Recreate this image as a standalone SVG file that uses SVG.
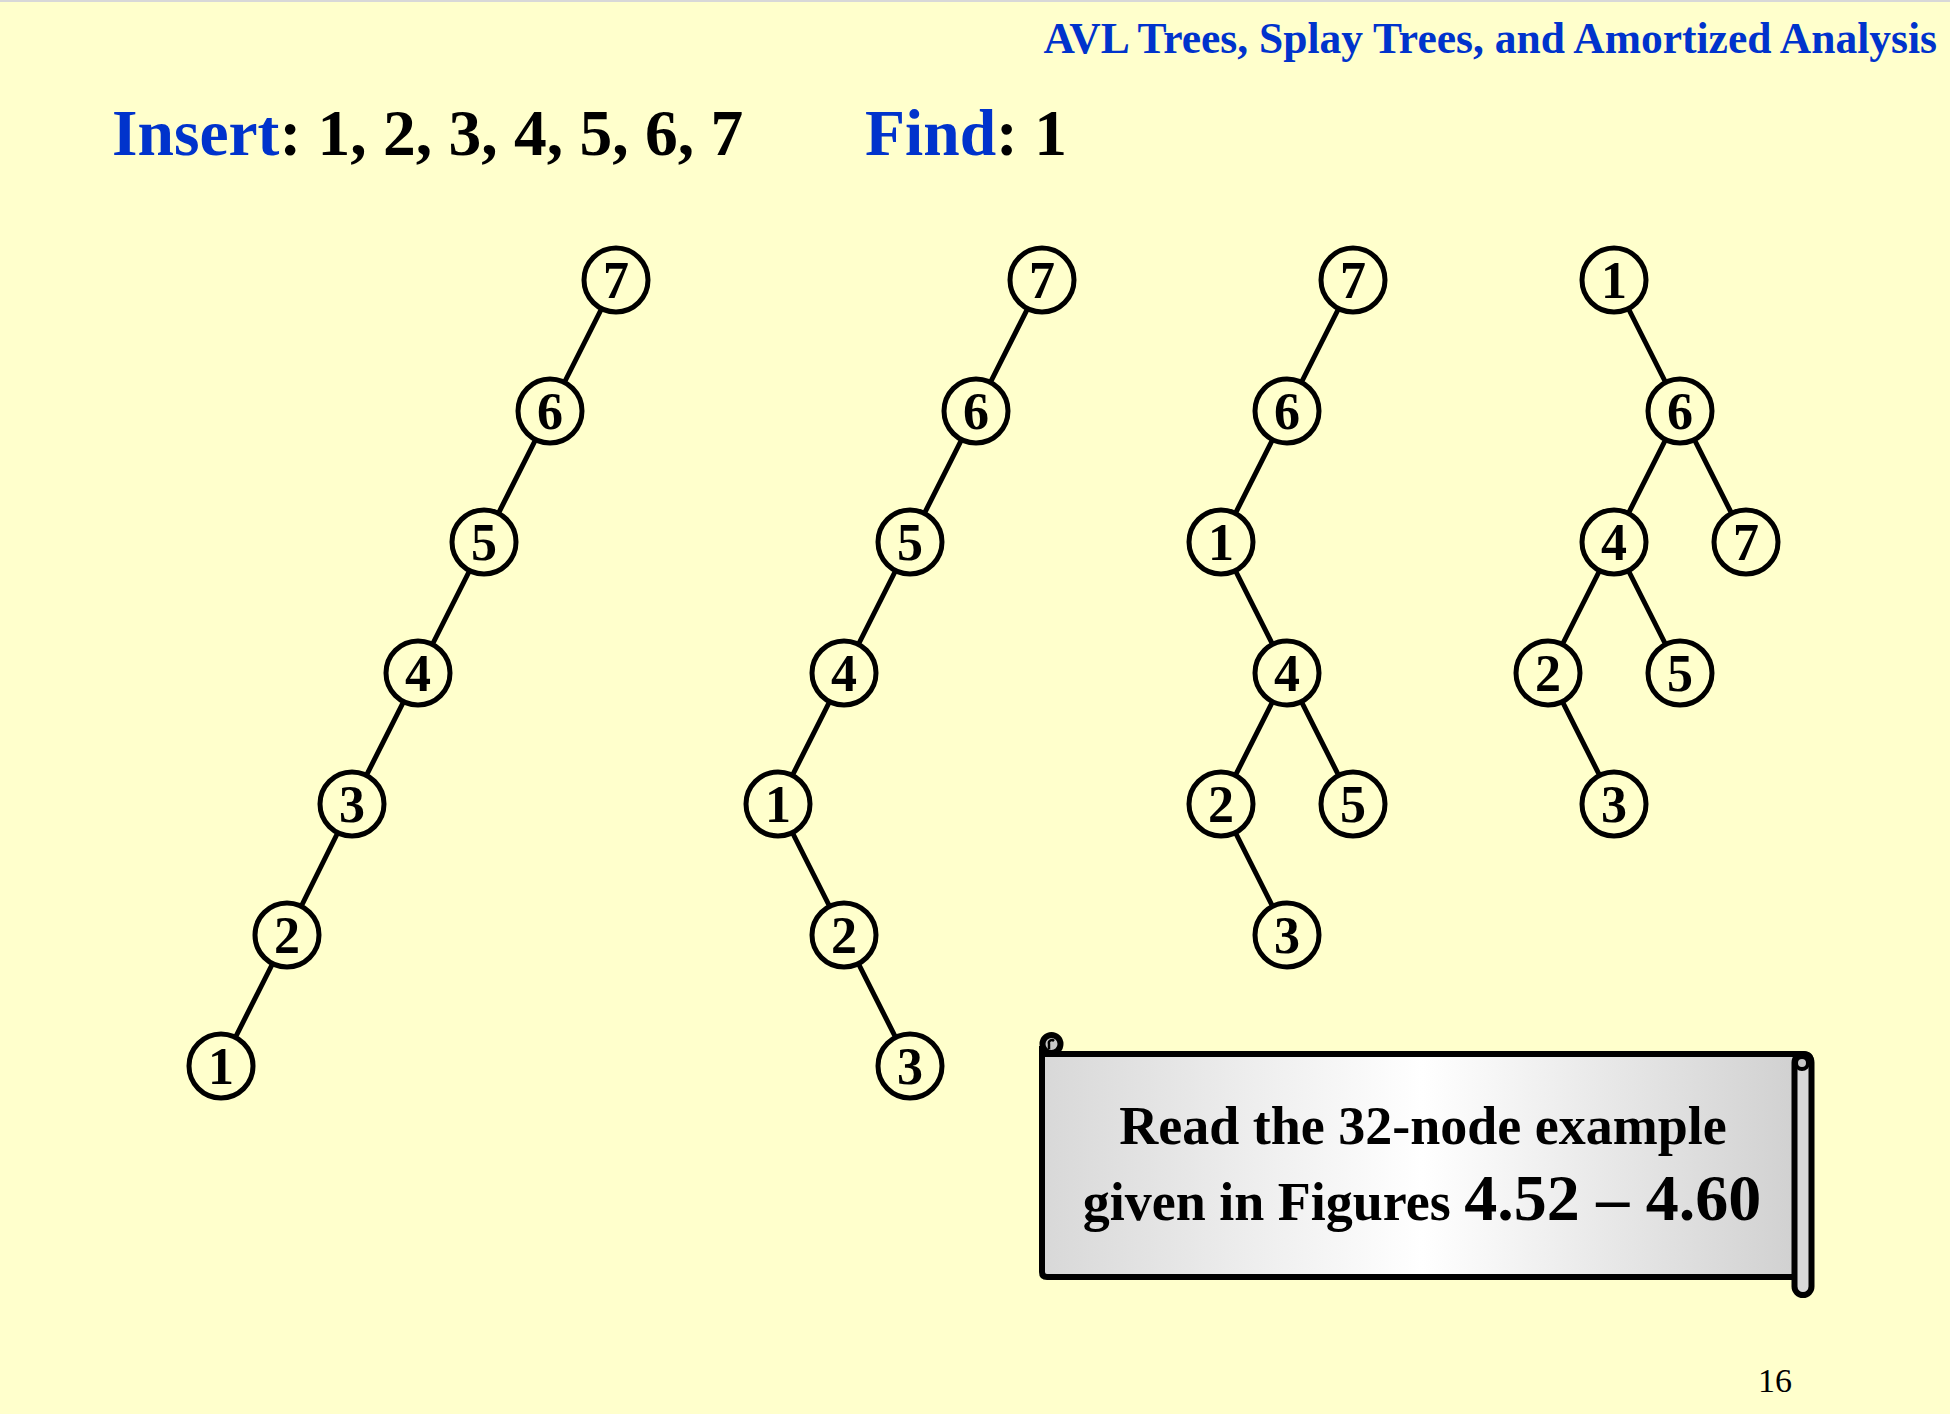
<svg xmlns="http://www.w3.org/2000/svg" width="1950" height="1414" viewBox="0 0 1950 1414">
<defs>
<style>
.bg{fill:#FFFFCC}
.edge{stroke:#000;stroke-width:5;stroke-linecap:round}
.node circle{fill:#FFFFCC;stroke:#000;stroke-width:5}
.node text{font-family:"Liberation Serif","Times New Roman",serif;font-weight:bold;font-size:52px;fill:#000;text-anchor:middle}
.blue{fill:#0033CC}
.hd{font-family:"Liberation Serif","Times New Roman",serif;font-weight:bold}
</style>
<linearGradient id="scrollGrad" x1="0" y1="0" x2="1" y2="0">
<stop offset="0" stop-color="#D8D8D8"/>
<stop offset="0.5" stop-color="#FFFFFF"/>
<stop offset="1" stop-color="#D0D0D0"/>
</linearGradient>
</defs>
<rect class="bg" x="0" y="0" width="1950" height="1414"/>
<rect x="0" y="0" width="1950" height="2" fill="#D8D8D8"/>
<text class="hd blue" x="1937" y="53" font-size="43.5" text-anchor="end">AVL Trees, Splay Trees, and Amortized Analysis</text>
<text class="hd" x="112" y="155" font-size="65.5"><tspan class="blue">Insert</tspan>: 1, 2, 3, 4, 5, 6, 7</text>
<text class="hd" x="865" y="155" font-size="65.5"><tspan class="blue">Find</tspan>: 1</text>

<g id="connectors">
<line class="edge" x1="616" y1="280" x2="550" y2="411"/>
<line class="edge" x1="550" y1="411" x2="484" y2="542"/>
<line class="edge" x1="484" y1="542" x2="418" y2="673"/>
<line class="edge" x1="418" y1="673" x2="352" y2="804"/>
<line class="edge" x1="352" y1="804" x2="287" y2="935"/>
<line class="edge" x1="287" y1="935" x2="221" y2="1066"/>

<line class="edge" x1="1042" y1="280" x2="976" y2="411"/>
<line class="edge" x1="976" y1="411" x2="910" y2="542"/>
<line class="edge" x1="910" y1="542" x2="844" y2="673"/>
<line class="edge" x1="844" y1="673" x2="778" y2="804"/>
<line class="edge" x1="778" y1="804" x2="844" y2="935"/>
<line class="edge" x1="844" y1="935" x2="910" y2="1066"/>

<line class="edge" x1="1353" y1="280" x2="1287" y2="411"/>
<line class="edge" x1="1287" y1="411" x2="1221" y2="542"/>
<line class="edge" x1="1221" y1="542" x2="1287" y2="673"/>
<line class="edge" x1="1287" y1="673" x2="1221" y2="804"/>
<line class="edge" x1="1287" y1="673" x2="1353" y2="804"/>
<line class="edge" x1="1221" y1="804" x2="1287" y2="935"/>

<line class="edge" x1="1614" y1="280" x2="1680" y2="411"/>
<line class="edge" x1="1680" y1="411" x2="1614" y2="542"/>
<line class="edge" x1="1680" y1="411" x2="1746" y2="542"/>
<line class="edge" x1="1614" y1="542" x2="1548" y2="673"/>
<line class="edge" x1="1614" y1="542" x2="1680" y2="673"/>
<line class="edge" x1="1548" y1="673" x2="1614" y2="804"/>
</g>

<g id="t1n7" class="node"><circle cx="616" cy="280" r="32"/><text x="616" y="298">7</text></g>
<g id="t1n6" class="node"><circle cx="550" cy="411" r="32"/><text x="550" y="429">6</text></g>
<g id="t1n5" class="node"><circle cx="484" cy="542" r="32"/><text x="484" y="560">5</text></g>
<g id="t1n4" class="node"><circle cx="418" cy="673" r="32"/><text x="418" y="691">4</text></g>
<g id="t1n3" class="node"><circle cx="352" cy="804" r="32"/><text x="352" y="822">3</text></g>
<g id="t1n2" class="node"><circle cx="287" cy="935" r="32"/><text x="287" y="953">2</text></g>
<g id="t1n1" class="node"><circle cx="221" cy="1066" r="32"/><text x="221" y="1084">1</text></g>

<g id="t2n7" class="node"><circle cx="1042" cy="280" r="32"/><text x="1042" y="298">7</text></g>
<g id="t2n6" class="node"><circle cx="976" cy="411" r="32"/><text x="976" y="429">6</text></g>
<g id="t2n5" class="node"><circle cx="910" cy="542" r="32"/><text x="910" y="560">5</text></g>
<g id="t2n4" class="node"><circle cx="844" cy="673" r="32"/><text x="844" y="691">4</text></g>
<g id="t2n1" class="node"><circle cx="778" cy="804" r="32"/><text x="778" y="822">1</text></g>
<g id="t2n2" class="node"><circle cx="844" cy="935" r="32"/><text x="844" y="953">2</text></g>
<g id="t2n3" class="node"><circle cx="910" cy="1066" r="32"/><text x="910" y="1084">3</text></g>

<g id="t3n7" class="node"><circle cx="1353" cy="280" r="32"/><text x="1353" y="298">7</text></g>
<g id="t3n6" class="node"><circle cx="1287" cy="411" r="32"/><text x="1287" y="429">6</text></g>
<g id="t3n1" class="node"><circle cx="1221" cy="542" r="32"/><text x="1221" y="560">1</text></g>
<g id="t3n4" class="node"><circle cx="1287" cy="673" r="32"/><text x="1287" y="691">4</text></g>
<g id="t3n2" class="node"><circle cx="1221" cy="804" r="32"/><text x="1221" y="822">2</text></g>
<g id="t3n5" class="node"><circle cx="1353" cy="804" r="32"/><text x="1353" y="822">5</text></g>
<g id="t3n3" class="node"><circle cx="1287" cy="935" r="32"/><text x="1287" y="953">3</text></g>

<g id="t4n1" class="node"><circle cx="1614" cy="280" r="32"/><text x="1614" y="298">1</text></g>
<g id="t4n6" class="node"><circle cx="1680" cy="411" r="32"/><text x="1680" y="429">6</text></g>
<g id="t4n4" class="node"><circle cx="1614" cy="542" r="32"/><text x="1614" y="560">4</text></g>
<g id="t4n7" class="node"><circle cx="1746" cy="542" r="32"/><text x="1746" y="560">7</text></g>
<g id="t4n2" class="node"><circle cx="1548" cy="673" r="32"/><text x="1548" y="691">2</text></g>
<g id="t4n5" class="node"><circle cx="1680" cy="673" r="32"/><text x="1680" y="691">5</text></g>
<g id="t4n3" class="node"><circle cx="1614" cy="804" r="32"/><text x="1614" y="822">3</text></g>

<g id="scroll">
<path d="M1042,1046 L1042,1272 Q1042,1277 1047,1277 L1802,1277 L1802,1054 L1045,1054" fill="url(#scrollGrad)" stroke="#000" stroke-width="6" stroke-linejoin="round"/>
<path d="M1042,1054 L1803,1054 Q1811,1054 1811,1062" fill="none" stroke="#000" stroke-width="6"/>
<circle cx="1051.5" cy="1044" r="9" fill="#C8C8C8" stroke="#000" stroke-width="6"/>
<path d="M1054,1041 A3,3 0 0 0 1049,1044 L1049,1049" fill="none" stroke="#000" stroke-width="2.5"/>
<rect x="1794.5" y="1054" width="17" height="241" rx="8.5" fill="#D8D8D8" stroke="#000" stroke-width="6"/>
<circle cx="1802" cy="1063" r="6" fill="#C8C8C8" stroke="#000" stroke-width="4"/>
<text class="hd" x="1423" y="1144" font-size="54" text-anchor="middle">Read the 32-node example</text>
<text class="hd" x="1422" y="1220" font-size="54" text-anchor="middle">given in Figures <tspan font-size="66">4.52 – 4.60</tspan></text>
</g>
<text x="1792" y="1392" font-family="'Liberation Serif','Times New Roman',serif" font-size="34" text-anchor="end">16</text>
</svg>
